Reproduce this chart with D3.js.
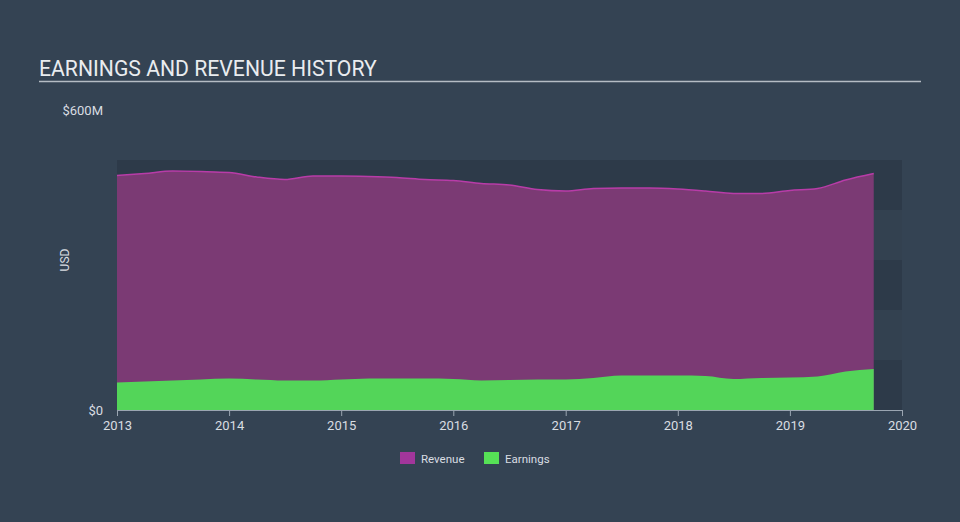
<!DOCTYPE html>
<html><head><meta charset="utf-8">
<script src="https://cdn.jsdelivr.net/npm/d3@7"></script>
<style>
html,body{margin:0;padding:0;background:#344353;}
svg{display:block;font-family:Roboto,"Open Sans",sans-serif;}
</style></head>
<body><svg id="c" width="960" height="522"></svg>
<script>
const dates = ["2013-01","2013-04","2013-07","2013-10","2014-01","2014-04","2014-07","2014-10",
"2015-01","2015-04","2015-07","2015-10","2016-01","2016-04","2016-07","2016-10",
"2017-01","2017-04","2017-07","2017-10","2018-01","2018-04","2018-07","2018-10",
"2019-01","2019-04","2019-07","2019-10"];
const revenue = [469,473,478,477,475,466,461,468,468,467,465,461,459,453,450,441,438,443,444,444,442,438,433,433,439,443,460,473];
const earnings = [55,57,59,61,63,61,59,59,61,63,63,63,62,59,60,61,61,64,69,69,69,68,62,64,65,67,77,82];
const yTicks = [0,600];
const yTickLabels = ["$0","$600M"];
const xTickYears = [2013,2014,2015,2016,2017,2018,2019,2020];
const bandEdges = [0,100,200,300,400,500];

const svg = d3.select("#c");
const parse = d3.timeParse("%Y-%m");
const data = dates.map((d,i)=>({date:parse(d),rev:revenue[i],earn:earnings[i]}));

const x = d3.scaleTime().domain([new Date(2013,0,1), new Date(2020,0,1)]).range([117,902]);
const y = d3.scaleLinear().domain([0,600]).range([410,110]);

// title
svg.append("text").attr("x",39).attr("y",76).attr("fill","#e9ecef")
  .attr("font-size",21.2).text("EARNINGS AND REVENUE HISTORY");
svg.append("line").attr("x1",39).attr("x2",921).attr("y1",81.5).attr("y2",81.5)
  .attr("stroke","#b5bcc4").attr("stroke-width",1.5);

// background bands
for (let i=0;i<bandEdges.length-1;i++){
  svg.append("rect").attr("x",117).attr("width",785)
    .attr("y",y(bandEdges[i+1])).attr("height",y(bandEdges[i])-y(bandEdges[i+1]))
    .attr("fill", i%2===0 ? "#2d3a49" : "#334150");
}

const curve = d3.curveMonotoneX;
svg.append("path").datum(data)
  .attr("d", d3.area().x(d=>x(d.date)).y0(y(0)).y1(d=>y(d.rev)).curve(curve))
  .attr("fill","#7b3a74");
svg.append("path").datum(data)
  .attr("d", d3.line().x(d=>x(d.date)).y(d=>y(d.rev)).curve(curve))
  .attr("fill","none").attr("stroke","#b83ca8").attr("stroke-width",1.5);
svg.append("path").datum(data)
  .attr("d", d3.area().x(d=>x(d.date)).y0(y(0)).y1(d=>y(d.earn)).curve(curve))
  .attr("fill","#53d559");

// y labels
svg.selectAll(".yl").data(yTicks).enter().append("text")
  .attr("x",103).attr("y",d=>y(d)+4.5).attr("text-anchor","end")
  .attr("fill","#d9dde2").attr("font-size",13).text((d,i)=>yTickLabels[i]);
svg.append("text").attr("transform","translate(69,260) rotate(-90)")
  .attr("text-anchor","middle").attr("fill","#d9dde2").attr("font-size",12).text("USD");

// x axis
const xa = svg.append("g").attr("transform","translate(0,410)")
  .call(d3.axisBottom(x).tickValues(xTickYears.map(yv=>new Date(yv,0,1)))
    .tickFormat(d3.timeFormat("%Y")).tickSize(6).tickSizeOuter(0));
xa.select(".domain").attr("stroke","#9aa5b1");
xa.selectAll(".tick line").attr("stroke","#9aa5b1");
xa.selectAll(".tick text").attr("fill","#d9dde2").attr("font-size",13)
  .attr("font-family","Roboto,sans-serif").attr("dy","0.85em");

// legend
const legend = [{n:"Revenue",c:"#a2369b",x:400},{n:"Earnings",c:"#56e156",x:484}];
legend.forEach(l=>{
  svg.append("rect").attr("x",l.x).attr("y",452).attr("width",15).attr("height",12).attr("fill",l.c);
  svg.append("text").attr("x",l.x+21).attr("y",462.5).attr("fill","#d9dde2")
    .attr("font-size",11.5).text(l.n);
});
</script></body></html>
